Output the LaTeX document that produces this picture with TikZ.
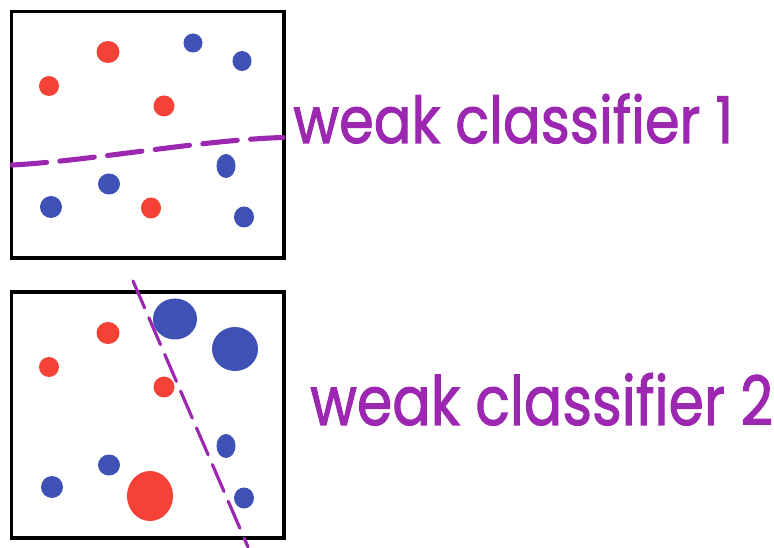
\documentclass[tikz,border=0pt]{standalone}
\usepackage{fontspec}
\setmainfont{Poppins}
\newfontfamily\handfont[FakeBold=1.6]{Poppins}
\definecolor{dotred}{HTML}{F44336}
\definecolor{dotblue}{HTML}{3F51B5}
\definecolor{splitpurple}{HTML}{9C27B0}
% a filled sample point: colour, centre, x radius, y radius (in px)
\newcommand{\blob}[4]{\fill[#1] (#2) ellipse [x radius=#3*0.75pt, y radius=#4*0.75pt];}
\tikzset{
  panel/.style={draw=black, line width=2.4pt},
  split/.style={draw=splitpurple, line cap=round},
  label/.style={inner sep=0pt, anchor=base west, text=splitpurple, font=\handfont}
}
\begin{document}
\begin{tikzpicture}[x=0.75pt, y=-0.75pt]
\useasboundingbox (0,0) rectangle (774,548);
\fill[white] (0,0) rectangle (774,548);

% first panel: one horizontal split
\draw[panel] (11.5,11.5) rectangle (284,258);
\blob{dotred}{108,52}{11.5}{11}
\blob{dotred}{49,86}{10}{10}
\blob{dotred}{164,106}{10.5}{10.5}
\blob{dotblue}{193,43}{9.5}{9.5}
\blob{dotblue}{242,61}{9.5}{10}
\blob{dotblue}{226,166}{9.5}{12}
\blob{dotblue}{109,184}{11}{10.5}
\blob{dotblue}{51,207}{11}{11}
\blob{dotred}{151,208}{10}{10.5}
\blob{dotblue}{244,217}{10}{10.5}
\draw[split, line width=3.8pt, dash pattern=on 26pt off 10pt]
  (12,165) .. controls (90,161) and (200,140) .. (283,137.5);
\node[label] (lab1) at (293,143)
  {\resizebox{330pt}{37pt}{weak classifier 1}};

% second panel: reweighted points and a slanted split
\draw[panel] (11.5,292) rectangle (284,538);
\blob{dotblue}{175,319}{22}{20.5}
\blob{dotblue}{235,349}{23}{22}
\blob{dotred}{108,333}{11.5}{11}
\blob{dotred}{49,367}{10}{10}
\blob{dotred}{164,387}{10.5}{10.5}
\blob{dotblue}{226,446}{9.5}{12}
\blob{dotblue}{109,465}{11}{10.5}
\blob{dotblue}{52,487}{11}{11}
\blob{dotred}{150,496}{23}{25}
\blob{dotblue}{244,498}{10}{10.5}
\draw[split, line width=2.4pt, dash pattern=on 22pt off 8pt]
  (133,281) -- (248,547);
\node[label] (lab2) at (310,425)
  {\resizebox{347pt}{39pt}{weak classifier 2}};
\end{tikzpicture}
\end{document}
